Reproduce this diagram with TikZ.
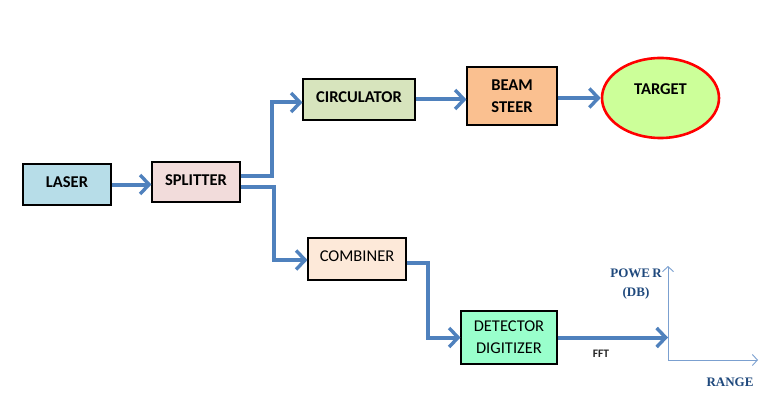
\documentclass[tikz,border=0pt]{standalone}
\usepackage{fontspec}
\setmainfont{Carlito}
\newfontfamily\serifb{Liberation Serif}
\usetikzlibrary{arrows.meta,shapes.geometric}
\definecolor{arrowblue}{HTML}{4F81BD}
\definecolor{axisblue}{HTML}{7BA0D0}
\definecolor{labelblue}{HTML}{1F497D}
\definecolor{clLaser}{HTML}{B7DDE8}
\definecolor{clSplit}{HTML}{F2DCDB}
\definecolor{clCirc}{HTML}{D7E4BD}
\definecolor{clBeam}{HTML}{FAC090}
\definecolor{clTarget}{HTML}{CCFF99}
\definecolor{clComb}{HTML}{FDE9D9}
\definecolor{clDet}{HTML}{99FFCC}
\tikzset{
  blockbox/.style={draw=black, line width=1.1pt, rectangle, inner sep=0pt, align=center, font=\fontsize{16.5}{22}\selectfont\bfseries},
  plainbox/.style={blockbox, font=\fontsize{16.5}{22}\selectfont},
  flow/.style={draw=arrowblue, line width=4pt, -{Straight Barb[length=9pt,width=19pt,line width=3.4pt]}},
  axisline/.style={draw=axisblue, line width=1pt, -{Straight Barb[length=5pt,width=11pt,line width=0.9pt]}},
  axislabel/.style={text=labelblue, font=\serifb\fontsize{13}{14}\selectfont\bfseries, inner sep=0pt}
}
\begin{document}
\begin{tikzpicture}[x=1pt,y=-1pt]
\useasboundingbox[fill=white] (0,0) rectangle (770,398);
\node[blockbox, fill=clLaser, minimum width=88pt, minimum height=41pt] (laser) at (67,184.5) {\raisebox{4pt}{LASER}};
\node[blockbox, fill=clSplit, minimum width=88pt, minimum height=40pt] (splitter) at (196,182) {\raisebox{4pt}{SPLITTER}};
\node[blockbox, fill=clCirc, minimum width=112pt, minimum height=41pt] (circ) at (359,99.5) {\raisebox{4pt}{CIRCULATOR}};
\node[blockbox, fill=clBeam, minimum width=90pt, minimum height=58pt] (beam) at (512,96) {BEAM\\STEER};
\node[ellipse, draw=red, line width=2.6pt, fill=clTarget, minimum width=117pt, minimum height=80pt, inner sep=0pt, font=\fontsize{16.5}{22}\selectfont\bfseries] (target) at (660.5,98) {\raisebox{17pt}{TARGET}};
\node[plainbox, fill=clComb, minimum width=98pt, minimum height=42pt] (comb) at (357,259) {\raisebox{5pt}{COMBINER}};
\node[plainbox, fill=clDet, minimum width=96pt, minimum height=53pt] (det) at (509,337.5) {DETECTOR\\DIGITIZER};

\coordinate (ax0) at (668,360);
\coordinate (axtop) at (668,266);
\coordinate (axright) at (758,360);

\draw[flow] (laser.east) -- (laser.east -| splitter.west);
\draw[flow] ([yshift=6pt]splitter.east) -- ++(31,0) |- ([yshift=-3pt]circ.west);
\draw[flow] ([yshift=-5pt]splitter.east) -- ++(33,0) |- ([yshift=-1pt]comb.west);
\draw[flow] (circ.east) -- (circ.east -| beam.west);
\draw[flow] ([yshift=-2pt]beam.east) -- (target.west);
\draw[flow] ([yshift=-4pt]comb.east) -- ++(21,0) |- (det.west);
\draw[flow] (det.east) -- (det.east -| ax0);

\draw[axisline] (ax0) -- (axtop);
\draw[axisline] (ax0) -- (axright);

\node[axislabel] (power) at (636,273) {POWE\,R};
\node[axislabel] (db) at (636,293) {(DB)};
\node[axislabel] (range) at (730,382) {RANGE};
\node[font=\fontsize{11.5}{12}\selectfont\bfseries, text=black!85, inner sep=0pt] (fft) at (601,354) {FFT};
\end{tikzpicture}
\end{document}
